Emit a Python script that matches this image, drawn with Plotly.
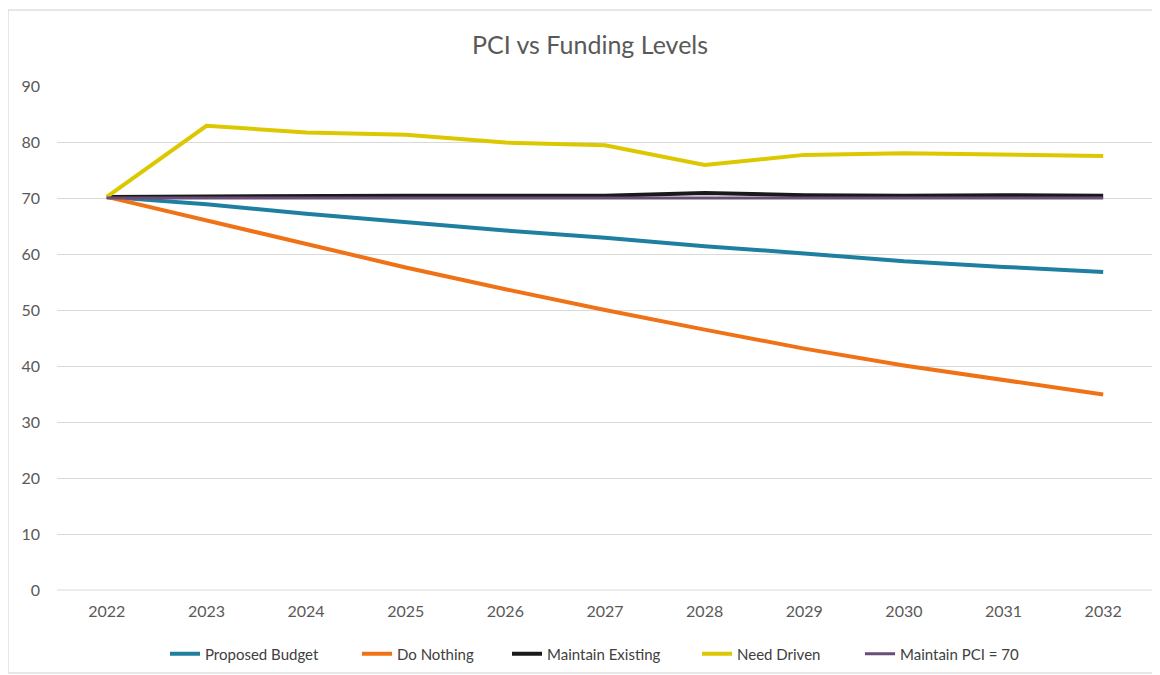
import plotly.graph_objects as go

years = ["2022", "2023", "2024", "2025", "2026", "2027", "2028", "2029", "2030", "2031", "2032"]
proposed_budget = [70.2, 68.9, 67.2, 65.7, 64.2, 62.9, 61.4, 60.1, 58.7, 57.7, 56.8]
do_nothing = [70.2, 66.0, 61.8, 57.6, 53.7, 50.0, 46.5, 43.1, 40.1, 37.5, 34.9]
maintain_existing = [70.2, 70.3, 70.4, 70.4, 70.4, 70.4, 70.9, 70.5, 70.4, 70.5, 70.4]
need_driven = [70.2, 82.9, 81.7, 81.3, 79.9, 79.4, 75.9, 77.7, 78.0, 77.7, 77.5]
maintain_pci_70 = [70.0] * 11

series = [
    ("Proposed Budget", proposed_budget, "#1f7fa0", 4),
    ("Do Nothing", do_nothing, "#f07216", 4),
    ("Maintain Existing", maintain_existing, "#1a1a1a", 4),
    ("Need Driven", need_driven, "#dcc800", 4),
    ("Maintain PCI = 70", maintain_pci_70, "#6a4d78", 3),
]
# page x where each legend entry's swatch starts
legend_starts = [173, 365, 515, 705, 868]

# page coordinates of plot area (page has 8px body margin)
OFF = 8
PX0, PX1, PY0, PY1 = 57, 1153, 86, 590
W, H = 1160, 675

fig = go.Figure()
legend_names = ["legend", "legend2", "legend3", "legend4", "legend5"]
for (name, vals, color, w), lg in zip(series, legend_names):
    fig.add_trace(go.Scatter(x=years, y=vals, mode="lines", name=name,
                             legend=lg, line=dict(color=color, width=w)))

font_family = "Lato, 'Open Sans', sans-serif"
layout_legends = {}
for lg, sx in zip(legend_names, legend_starts):
    layout_legends[lg] = dict(
        orientation="h", x=(sx - 8 - PX0) / (PX1 - PX0), xanchor="left",
        y=(PY1 - 654) / (PY1 - PY0), yanchor="middle",
        font=dict(family=font_family, size=15, color="#404040"),
        bgcolor="rgba(0,0,0,0)", borderwidth=0,
    )

fig.update_layout(
    width=W, height=H,
    margin=dict(l=PX0 - OFF, r=W - (PX1 - OFF), t=PY0 - OFF, b=H - (PY1 - OFF)),
    paper_bgcolor="white", plot_bgcolor="white",
    title=dict(text="PCI vs Funding Levels", x=(590 - OFF) / W, xanchor="center",
               xref="container",
               y=1 - (45 - OFF) / H, yanchor="middle",
               font=dict(family=font_family, size=25, color="#595959")),
    font=dict(family=font_family, size=16, color="#595959"),
    xaxis=dict(type="category", range=[-0.5, 10.5], showgrid=False,
               showline=False, zeroline=False, ticks="",
               ticklabelstandoff=10,
               tickfont=dict(size=16, color="#595959")),
    yaxis=dict(range=[0, 90], dtick=10, showgrid=True, gridcolor="#d9d9d9",
               gridwidth=1, zeroline=False, showline=False, ticks="",
               ticklabelstandoff=16,
               tickfont=dict(size=16, color="#595959")),
    showlegend=True,
    **layout_legends,
)

fig.add_shape(type="line", xref="paper", yref="paper",
              x0=0, x1=1, y0=0, y1=0, line=dict(color="#d9d9d9", width=1))
fig.add_shape(type="rect", xref="paper", yref="paper",
              x0=(8 - PX0) / (PX1 - PX0), x1=(1166 - PX0) / (PX1 - PX0),
              y0=(PY1 - 673) / (PY1 - PY0), y1=(PY1 - 10) / (PY1 - PY0),
              line=dict(color="#d0d0d0", width=1), fillcolor="rgba(0,0,0,0)",
              layer="below")

fig.write_html("out.html")
